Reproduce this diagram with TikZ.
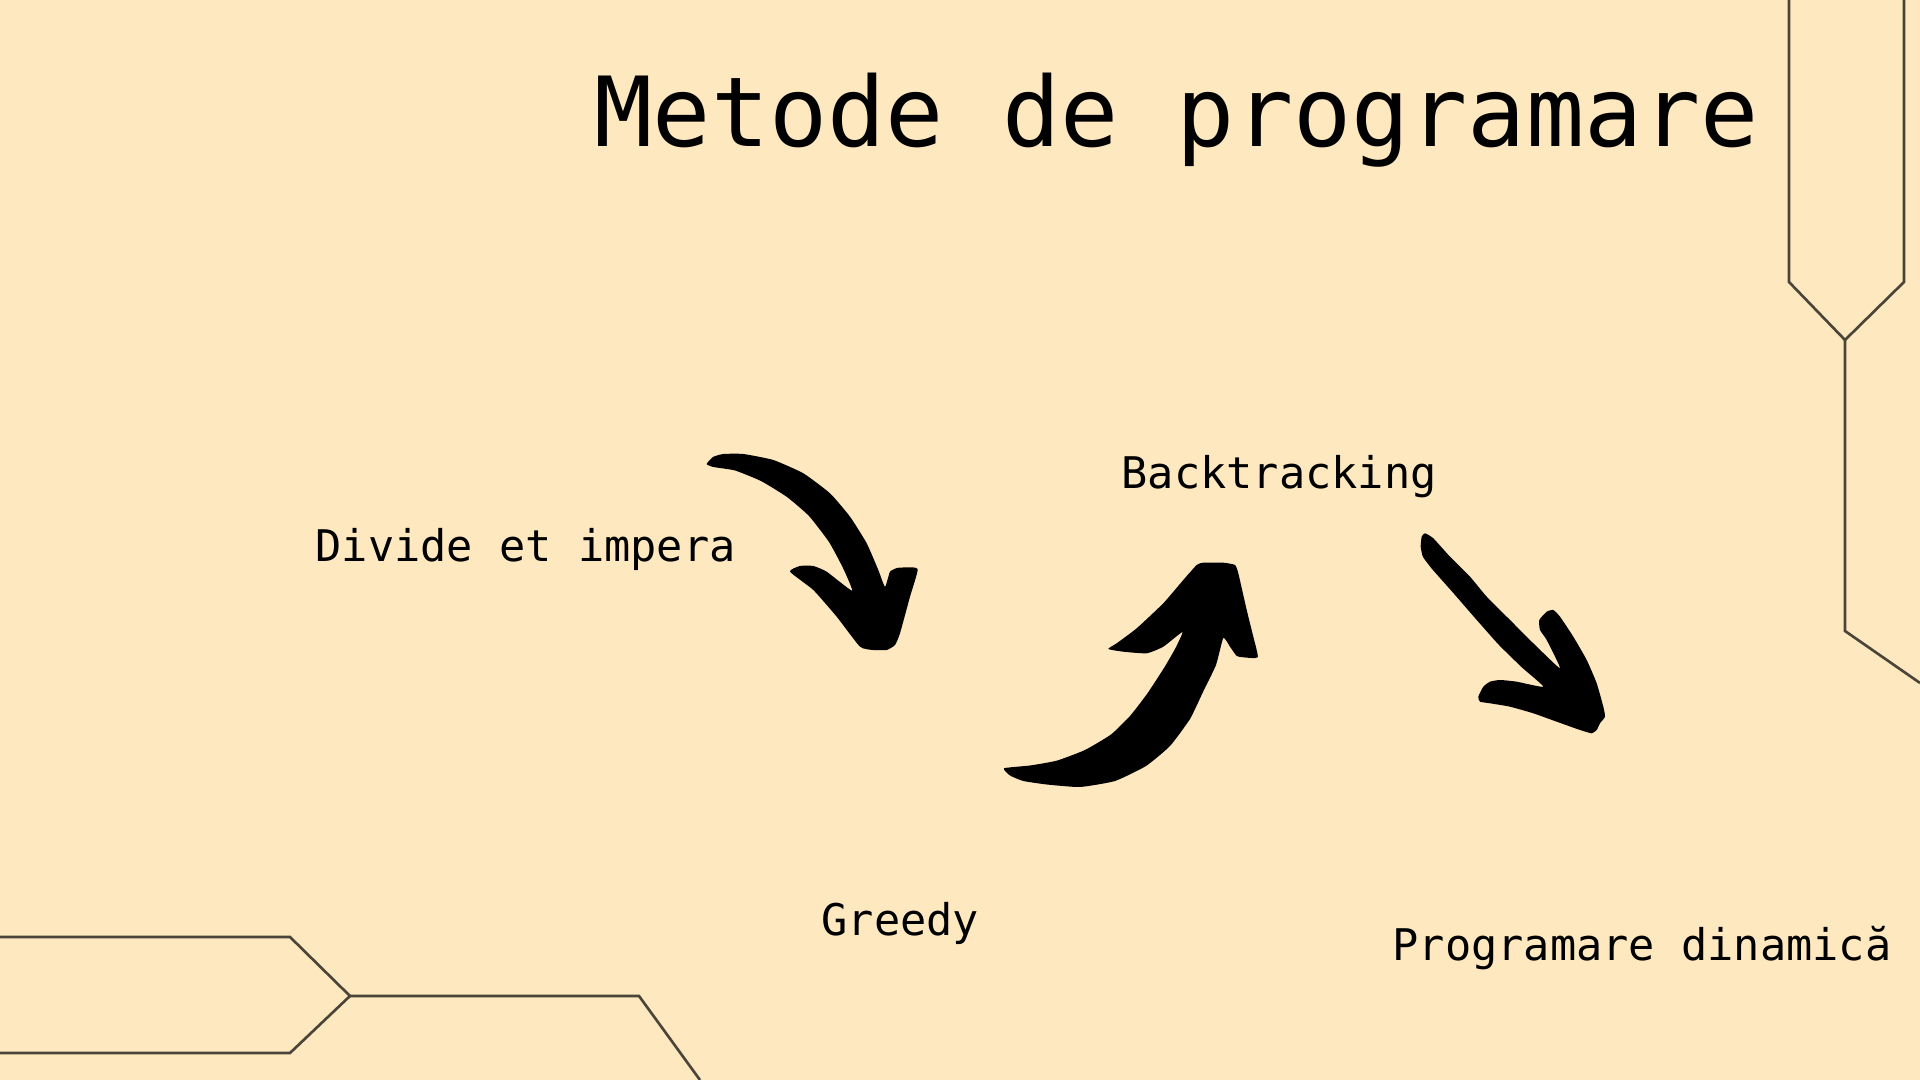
\documentclass[tikz,border=0pt]{standalone}
\usepackage{fontspec}
\setmonofont{DejaVu Sans Mono}
\definecolor{paper}{RGB}{253,232,192}
\definecolor{deco}{RGB}{74,69,56}

\begin{document}
\begin{tikzpicture}[x=0.01cm, y=-0.01cm,
    method/.style={font=\ttfamily\fontsize{12.4}{14}\selectfont, anchor=base west, inner sep=0pt},
    brush/.style={fill=black, draw=none},
    decoline/.style={draw=deco, line width=0.75pt}]

    % Background
    \fill[paper] (0,0) rectangle (1920,1080);
    \useasboundingbox (0,0) rectangle (1920,1080);

    % Title
    \node[method, font=\ttfamily\fontsize{27.5}{30}\selectfont] (title) at (594,147) {Metode de programare};

    % Methods
    \node[method] (divide) at (315,562) {Divide et impera};
    \node[method] (greedy) at (821,936) {Greedy};
    \node[method] (back) at (1121,489) {Backtracking};
    \node[method] (dyn) at (1392,961) {Programare dinamică};

    % Brush arrows
    \fill[brush] plot[smooth cycle, tension=0.3] coordinates {
        (706.7,464) (713,457) (723.3,454) (743.3,454) (773.3,460) (803.3,473.3)
        (830,493.3) (850,516.7) (866.7,543.3) (878.3,570) (885,586.7) (890,571.7)
        (897,568) (903.3,567.5) (917.7,569) (910,596.7) (900,633.3) (895,645)
        (886.7,650) (873.3,650) (860,646.7) (836.7,616.7) (813.3,590) (790,571.7)
        (800,566) (813.3,566) (826.7,571.7) (852,590.7) (843,568) (829,542)
        (809,516) (787,497) (761,481) (735,470.5) (713.3,467)};

    \fill[brush] plot[smooth cycle, tension=0.3] coordinates {
        (1004,768.3) (1030,765.5) (1056.7,760.7) (1085,750) (1111,734.5)
        (1130,716) (1147,694) (1164,668) (1175,649) (1182.5,632)
        (1163.3,646.7) (1146.7,653.3) (1123.3,651.7) (1108.3,649) (1116.7,643.3)
        (1136.7,628.3) (1163.3,603.3) (1183.3,580) (1196.7,565) (1203.3,562.7)
        (1223.3,562.7) (1235,565) (1238.3,573.3) (1246.7,610) (1253.3,636.7)
        (1257.7,657.3) (1243.3,657.3) (1236.7,656) (1230,646.7) (1223.3,638)
        (1216,665) (1203,692) (1190,719) (1170,746) (1146,766)
        (1115,781) (1080,787) (1046.7,784.5) (1023.3,781) (1010,775.5)};

    \fill[brush] plot[smooth cycle, tension=0.3] coordinates {
        (1425,533.3) (1433.3,538.3) (1450,556.7) (1470,576.7) (1486.7,596.7)
        (1510,620) (1533.3,643.3) (1560,668.3) (1546.7,640) (1540,630)
        (1539.3,620) (1546.7,611.7) (1553.3,610) (1560,616.7) (1573.3,636.7)
        (1586.7,660) (1596.7,683.3) (1603.3,706.7) (1605,716.7) (1600,723.3)
        (1596.7,730) (1591.7,733.3) (1580,730) (1556.7,721.7) (1533.3,713.3)
        (1510,706.7) (1490,703.3) (1480,701.7) (1478.3,696.7) (1483.3,686.7)
        (1490,681.7) (1500,680) (1516.7,681.7) (1543.3,686.7) (1522,667.5)
        (1498.5,644.5) (1475,618) (1452,591.5) (1432.5,569.5) (1423,557)
        (1420.7,546.7) (1421.7,536.7)};

    % Corner decoration, right
    \draw[decoline] (1789,0) -- (1789,282) -- (1845,340) -- (1904,282) -- (1904,0);
    \draw[decoline] (1845,340) -- (1845,631) -- (1920,683);

    % Corner decoration, bottom left
    \draw[decoline] (0,937) -- (290,937) -- (350,996) -- (290,1053) -- (0,1053);
    \draw[decoline] (350,996) -- (639,996) -- (700,1080);
\end{tikzpicture}
\end{document}
